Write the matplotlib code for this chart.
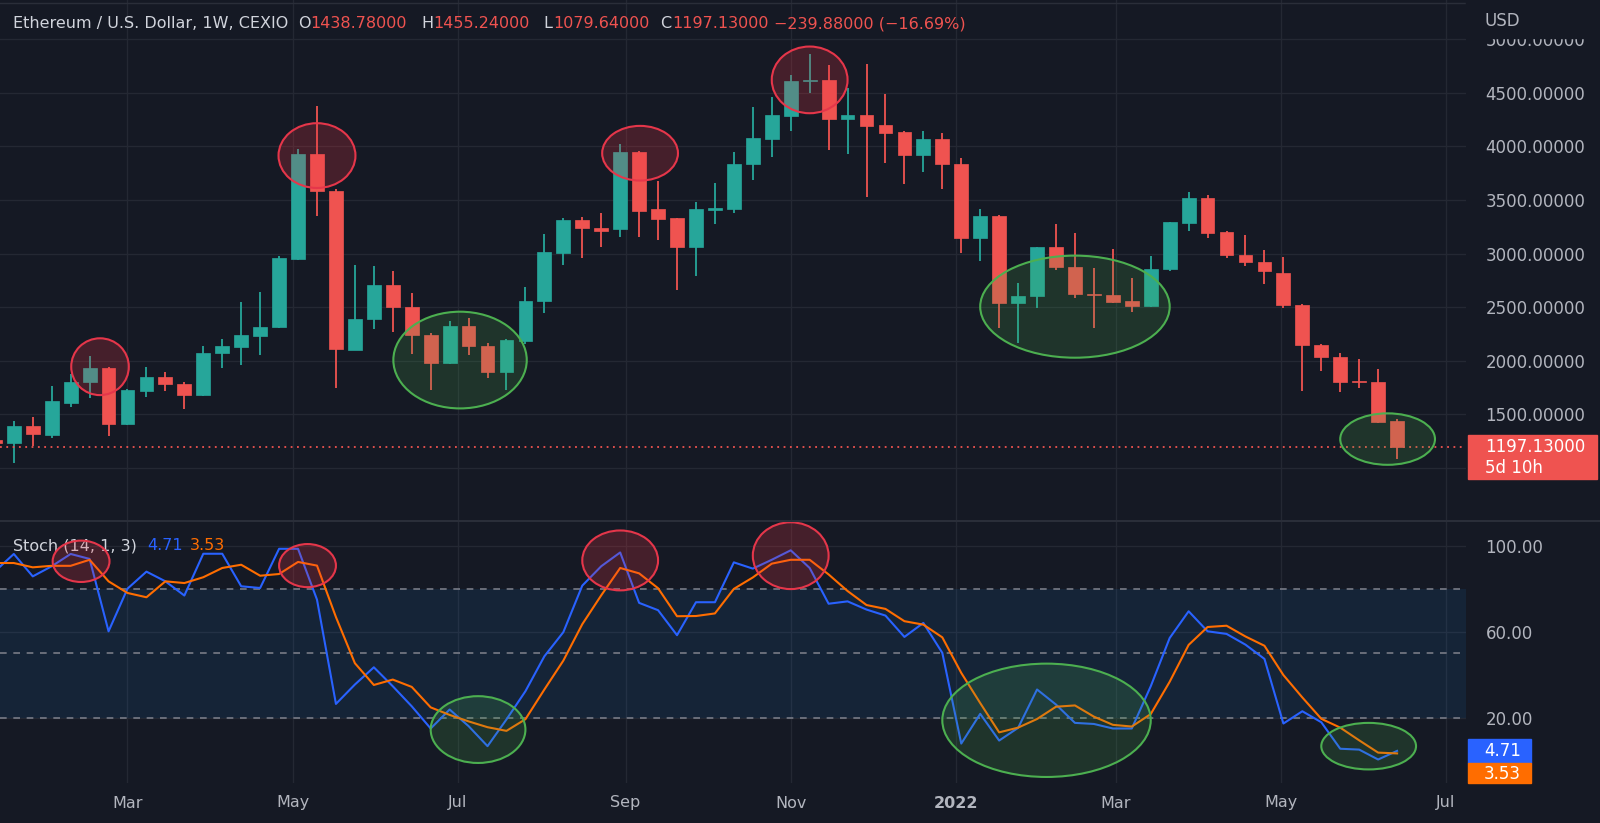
import matplotlib
matplotlib.use('Agg')
import matplotlib.pyplot as plt
import matplotlib.dates as mdates
from matplotlib.patches import Ellipse, Rectangle
from matplotlib.lines import Line2D
import pandas as pd

# weekly candles, ETH/USD (CEXIO), week of 2021-01-11 .. 2022-06-13
weeks = pd.date_range('2021-01-11', periods=75, freq='7D')
opens = [1262, 1229, 1394, 1307, 1609, 1805, 1932, 1410, 1721, 1852,
         1780, 1680, 2069, 2131, 2231, 2312, 2947, 3927, 3587, 2104,
         2387, 2704, 2505, 2240, 1976, 2324, 2141, 1892, 2188, 2555,
         3009, 3314, 3242, 3227, 3952, 3413, 3329, 3059, 3407, 3413,
         3833, 4073, 4284, 4605, 4620, 4259, 4291, 4197, 4132, 3917,
         4067, 3836, 3149, 3351, 2536, 2604, 3059, 2878, 2623, 2614,
         2555, 2511, 2853, 3283, 3519, 3199, 2990, 2925, 2822, 2523,
         2147, 2038, 1814, 1805, 1438.78]
highs = [1350, 1441, 1478, 1764, 1876, 2044, 1940, 1733, 1939, 1892,
         1805, 2138, 2200, 2548, 2639, 2978, 3973, 4378, 3600, 2891,
         2881, 2838, 2629, 2256, 2374, 2396, 2163, 2200, 2691, 3183,
         3329, 3339, 3376, 4023, 3961, 3677, 3335, 3482, 3662, 3951,
         4365, 4456, 4661, 4860, 4760, 4543, 4770, 4487, 4144, 4147,
         4123, 3889, 3413, 3360, 2723, 3065, 3276, 3189, 2863, 3040,
         2769, 2978, 3298, 3575, 3544, 3211, 3174, 3034, 2965, 2530,
         2155, 2076, 2013, 1920, 1455.24]
lows = [1050, 1043, 1208, 1282, 1572, 1656, 1298, 1405, 1665, 1721,
        1547, 1674, 1936, 1960, 2054, 2306, 2940, 3351, 1743, 2097,
        2293, 2272, 2060, 1727, 1970, 2054, 1842, 1727, 2156, 2443,
        2894, 2956, 3059, 3152, 3152, 3127, 2660, 2791, 3276, 3382,
        3687, 3898, 4147, 4496, 3967, 3927, 3532, 3843, 3650, 3765,
        3601, 3003, 2934, 2302, 2163, 2489, 2847, 2583, 2302, 2542,
        2452, 2505, 2841, 3214, 3149, 2959, 2887, 2720, 2489, 1718,
        1907, 1712, 1743, 1422, 1079.64]
closes = [1229, 1394, 1313, 1621, 1805, 1932, 1410, 1727, 1852, 1780,
          1680, 2076, 2141, 2237, 2318, 2956, 3927, 3584, 2107, 2390,
          2704, 2505, 2240, 1976, 2324, 2138, 1892, 2194, 2561, 3012,
          3314, 3236, 3214, 3952, 3401, 3326, 3059, 3420, 3426, 3836,
          4076, 4291, 4611, 4620, 4256, 4291, 4191, 4129, 3917, 4067,
          3833, 3149, 3351, 2536, 2608, 3059, 2872, 2620, 2611, 2548,
          2511, 2859, 3292, 3519, 3189, 2984, 2918, 2833, 2520, 2144,
          2038, 1805, 1799, 1432, 1197.13]

stoch_k = [88.0, 96.1, 85.7, 90.4, 96.1, 93.8, 60.2, 80.0, 87.9, 83.4,
           76.8, 96.2, 96.2, 81.1, 80.3, 98.5, 98.5, 74.9, 26.5, 35.5,
           43.5, 34.7, 25.4, 15.1, 23.9, 16.2, 6.9, 19.3, 32.4, 48.6,
           59.8, 81.4, 90.4, 96.8, 73.4, 70.0, 58.4, 73.7, 73.7, 92.2,
           89.3, 93.4, 97.8, 89.6, 73.0, 74.1, 70.3, 67.5, 57.6, 64.1,
           50.2, 8.1, 21.9, 9.5, 15.4, 33.2, 26.2, 17.7, 17.2, 15.1,
           15.1, 34.7, 57.1, 69.5, 60.2, 59.0, 54.0, 47.4, 17.4, 23.1,
           18.0, 5.7, 5.3, 0.7, 4.71]
stoch_d = [91.9, 91.9, 89.9, 90.6, 90.6, 93.4, 83.4, 78.0, 76.0, 83.4,
           82.6, 85.3, 89.6, 91.1, 86.0, 86.8, 92.4, 90.7, 66.8, 45.4,
           35.3, 37.8, 34.4, 24.9, 21.4, 18.4, 15.7, 14.0, 19.4, 33.2,
           46.6, 63.5, 76.9, 89.6, 87.1, 80.2, 67.2, 67.3, 68.5, 79.9,
           85.2, 91.6, 93.4, 93.4, 86.6, 78.9, 72.4, 70.6, 64.9, 63.3,
           57.4, 40.9, 26.9, 13.3, 15.5, 19.5, 25.2, 25.8, 20.6, 16.8,
           16.0, 21.8, 36.8, 53.9, 62.2, 62.8, 57.8, 53.5, 39.9, 29.5,
           19.6, 15.5, 9.6, 3.9, 3.53]

# hand-drawn circles: (candle index, centre value, half width in weeks, half height, colour)
price_marks = [(5.55, 1945, 1.52, 265, 'red'), (17.0, 3914, 2.03, 302, 'red'),
               (24.55, 2007, 3.52, 451, 'green'), (34.05, 3936, 2.0, 255, 'red'),
               (43.0, 4620, 2.0, 311, 'red'), (57.0, 2505, 5.0, 476, 'green'),
               (73.5, 1270, 2.5, 240, 'green')]
stoch_marks = [(4.55, 92.7, 1.5, 9.6, 'red'), (16.5, 90.7, 1.5, 10.0, 'red'),
               (25.5, 14.6, 2.5, 15.5, 'green'), (33.0, 93.1, 2.0, 13.9, 'red'),
               (42.0, 95.3, 2.0, 15.5, 'red'), (55.5, 18.9, 5.5, 26.3, 'green'),
               (72.5, 6.9, 2.5, 10.8, 'green')]

month_ticks = ['2021-03-01', '2021-05-01', '2021-07-01', '2021-09-01', '2021-11-01',
               '2022-01-01', '2022-03-01', '2022-05-01', '2022-07-01']
month_labels = ['Mar', 'May', 'Jul', 'Sep', 'Nov', '2022', 'Mar', 'May', 'Jul']
price_ticks = [1000, 1500, 2000, 2500, 3000, 3500, 4000, 4500, 5000]

BG = '#151924'
GRID = '#242833'
TXT = '#b2b5be'
TITLE = '#d1d4dc'
UP = '#26a69a'
DOWN = '#ef5350'
MARK = {'red': ('#e5364a', (0.95, 0.21, 0.27, 0.22)),
        'green': ('#4caf50', (0.30, 0.69, 0.31, 0.18))}

plt.rcParams['font.family'] = ['DejaVu Sans']

W, H = 1600, 823
fig = plt.figure(figsize=(16, 8.23), dpi=100, facecolor=BG)


def fx(px):
    return px / W


def fy(py):
    return 1 - py / H


ax1 = fig.add_axes([0, fy(521), fx(1466), 521 / H])
ax2 = fig.add_axes([0, fy(783), fx(1466), (783 - 521) / H], sharex=ax1)

x = mdates.date2num(weeks)
x0 = mdates.date2num(pd.Timestamp('2021-03-01')) - 47.1
x1 = x0 + 1466 / 2.707

for ax in (ax1, ax2):
    ax.set_facecolor(BG)
    for s in ax.spines.values():
        s.set_visible(False)
    ax.yaxis.tick_right()
    ax.set_xticks(mdates.date2num(pd.to_datetime(month_ticks)))
    ax.grid(True, color=GRID, lw=1)
    ax.tick_params(length=0, colors=TXT, labelsize=12)
    ax.set_axisbelow(True)
ax1.set_xlim(x0, x1)

# price pane
ax1.set_ylim(506, 5365)
ax1.set_yticks(price_ticks)
ax1.set_yticklabels(['' if p == 1000 else '%.5f' % p for p in price_ticks])
ax1.tick_params(axis='y', pad=14)
ax1.tick_params(axis='x', labelbottom=False)

for i in range(len(weeks)):
    o, h, l, c = opens[i], highs[i], lows[i], closes[i]
    col = UP if c >= o else DOWN
    ax1.vlines(x[i], l, h, color=col, lw=1.3, zorder=2)
    ax1.bar(x[i], max(abs(c - o), 14), bottom=min(o, c), width=5.1,
            color=col, edgecolor=col, lw=0.5, zorder=3)

ax1.axhline(closes[-1], color=DOWN, ls=(0, (1, 2.5)), lw=1.3, zorder=4)

for idx, yc, rw, rh, kind in price_marks:
    ec, fc = MARK[kind]
    ax1.add_patch(Ellipse((x[0] + idx * 7, yc), rw * 14, rh * 2,
                          facecolor=fc, edgecolor=ec, lw=1.5, zorder=5))

# stochastic pane
ax2.set_ylim(-10.2, 111.4)
ax2.set_yticks([20, 60, 100])
ax2.set_yticklabels(['20.00', '60.00', '100.00'])
ax2.tick_params(axis='y', pad=14)
ax2.tick_params(axis='x', pad=9, labelsize=11.5)
ax2.set_xticklabels(month_labels)
ax2.get_xticklabels()[5].set_fontweight('bold')
ax2.axhspan(20, 80, color='#1e88e5', alpha=0.1, lw=0, zorder=1)
for lvl in (80, 50, 20):
    ax2.axhline(lvl, color='#787b86', ls=(0, (4, 4)), lw=1.2, zorder=2)
ax2.plot(x, stoch_k, color='#2962ff', lw=1.5, zorder=4)
ax2.plot(x, stoch_d, color='#ff6d00', lw=1.5, zorder=4)
for idx, yc, rw, rh, kind in stoch_marks:
    ec, fc = MARK[kind]
    ax2.add_patch(Ellipse((x[0] + idx * 7, yc), rw * 14, rh * 2,
                          facecolor=fc, edgecolor=ec, lw=1.5, zorder=5))

# pane legend sits under the drawings
ax2.text(fx(13), fy(546), 'Stoch (14, 1, 3)', transform=fig.transFigure,
         color=TITLE, fontsize=11.5, va='center', zorder=4.5)
ax2.text(fx(147), fy(546), '4.71', transform=fig.transFigure,
         color='#2962ff', fontsize=11.5, va='center', zorder=4.5)
ax2.text(fx(190), fy(546), '3.53', transform=fig.transFigure,
         color='#ff6d00', fontsize=11.5, va='center', zorder=4.5)

# pane separators
fig.add_artist(Line2D([0, 1], [fy(521), fy(521)], color='#2a2e39', lw=1.5))
fig.add_artist(Line2D([0, 1], [fy(3), fy(3)], color='#2a2e39', lw=1))

# header strip over price scale
fig.add_artist(Rectangle((fx(1466), fy(38)), fx(134), 38 / H, color=BG, zorder=2))
fig.text(fx(1484), fy(21), 'USD', color=TXT, fontsize=12, va='center', zorder=3)

# last price label
fig.add_artist(Rectangle((fx(1468), fy(479)), fx(129), 44 / H, color=DOWN, zorder=2))
fig.text(fx(1485), fy(447), '1197.13000', color='white', fontsize=12, va='center', zorder=3)
fig.text(fx(1485), fy(468), '5d 10h', color='white', fontsize=12, va='center', zorder=3)

# stoch value labels
fig.add_artist(Rectangle((fx(1468), fy(763)), fx(63), 24 / H, color='#2962ff', zorder=2))
fig.add_artist(Rectangle((fx(1468), fy(783)), fx(63), 20 / H, color='#ff6d00', zorder=2))
fig.text(fx(1484), fy(751), '4.71', color='white', fontsize=12, va='center', zorder=3)
fig.text(fx(1484), fy(774), '3.53', color='white', fontsize=12, va='center', zorder=3)

# symbol legend
parts = [(13, 'Ethereum / U.S. Dollar, 1W, CEXIO', TITLE), (298, 'O', TITLE),
         (310, '1438.78000', DOWN), (421, 'H', TITLE), (433, '1455.24000', DOWN),
         (543, 'L', TITLE), (553, '1079.64000', DOWN), (660, 'C', TITLE),
         (672, '1197.13000', DOWN), (774, '\u2212239.88000 (\u221216.69%)', DOWN)]
for px, s, col in parts:
    fig.text(fx(px), fy(24), s, color=col, fontsize=11.5, va='center')

fig.savefig('out.png', dpi=100, facecolor=BG)
